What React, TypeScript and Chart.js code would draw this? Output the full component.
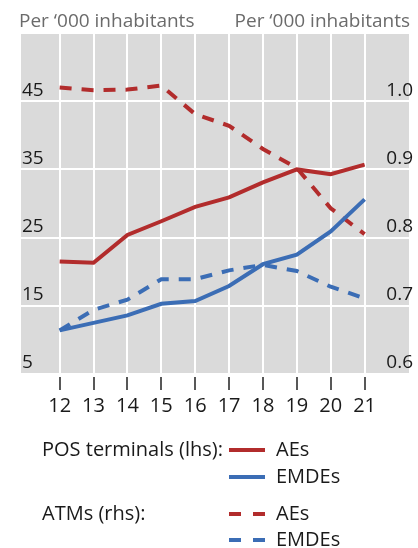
import React, { useEffect, useRef } from "react";
import { Chart, registerables } from "chart.js";

Chart.register(...registerables);

const years = [12, 13, 14, 15, 16, 17, 18, 19, 20, 21];
const posAEs = [21.5, 21.3, 25.4, 27.4, 29.5, 30.9, 33.1, 35.0, 34.3, 35.7];
const posEMDEs = [11.4, 12.5, 13.6, 15.3, 15.7, 17.9, 21.1, 22.5, 25.9, 30.6];
const atmAEs = [1.02, 1.016, 1.017, 1.023, 0.981, 0.964, 0.93, 0.902, 0.843, 0.805];
const atmEMDEs = [0.664, 0.694, 0.709, 0.739, 0.739, 0.752, 0.76, 0.751, 0.728, 0.711];
const leftTicks = [5, 15, 25, 35, 45, 55];
const rightTicks = [0.6, 0.7, 0.8, 0.9, 1.0, 1.1];

const RED = "#b22c2c";
const BLUE = "#3b6db5";
const FONT = "'Open Sans', 'Noto Sans', sans-serif";

const bgPlugin = {
  id: "bg",
  beforeDraw(chart: any) {
    const { ctx, chartArea } = chart;
    ctx.save();
    ctx.fillStyle = "#dadada";
    ctx.fillRect(chartArea.left, chartArea.top, chartArea.right - chartArea.left, chartArea.bottom - chartArea.top);
    ctx.restore();
  },
};

const annoPlugin = {
  id: "anno",
  afterDraw(chart: any) {
    const { ctx } = chart;
    ctx.save();
    ctx.font = `19px ${FONT}`;
    ctx.fillStyle = "#6b6b6b";
    ctx.textBaseline = "alphabetic";
    ctx.textAlign = "left";
    ctx.fillText("Per \u2018000 inhabitants", 19, 27);
    ctx.textAlign = "right";
    ctx.fillText("Per \u2018000 inhabitants", 410, 27);

    ctx.font = `20px ${FONT}`;
    ctx.fillStyle = "#1a1a1a";
    ctx.textBaseline = "middle";
    ctx.textAlign = "left";
    const rows = [
      { label: "POS terminals (lhs):", name: "AEs", color: RED, dash: [] as number[], y: 450 },
      { label: "", name: "EMDEs", color: BLUE, dash: [] as number[], y: 477 },
      { label: "ATMs (rhs):", name: "AEs", color: RED, dash: [12, 12], y: 514 },
      { label: "", name: "EMDEs", color: BLUE, dash: [12, 12], y: 540 },
    ];
    rows.forEach((r) => {
      if (r.label) ctx.fillText(r.label, 42, r.y);
      ctx.fillText(r.name, 276, r.y);
      ctx.save();
      ctx.strokeStyle = r.color;
      ctx.lineWidth = 4;
      ctx.setLineDash(r.dash);
      ctx.beginPath();
      ctx.moveTo(229, r.y);
      ctx.lineTo(265, r.y);
      ctx.stroke();
      ctx.restore();
    });
    ctx.restore();
  },
};

export default function App() {
  const ref = useRef<HTMLCanvasElement>(null);
  useEffect(() => {
    if (!ref.current) return;
    const pts = (arr: number[]) => arr.map((v, i) => ({ x: years[i], y: v }));
    const chart = new Chart(ref.current, {
      type: "line",
      data: {
        datasets: [
          { label: "POS AEs", data: pts(posAEs), borderColor: RED, borderWidth: 4, pointRadius: 0, yAxisID: "y" },
          { label: "POS EMDEs", data: pts(posEMDEs), borderColor: BLUE, borderWidth: 4, pointRadius: 0, yAxisID: "y" },
          { label: "ATM AEs", data: pts(atmAEs), borderColor: RED, borderWidth: 4, borderDash: [12, 10], pointRadius: 0, yAxisID: "y1" },
          { label: "ATM EMDEs", data: pts(atmEMDEs), borderColor: BLUE, borderWidth: 4, borderDash: [12, 10], pointRadius: 0, yAxisID: "y1" },
        ],
      },
      options: {
        animation: false,
        responsive: true,
        maintainAspectRatio: false,
        layout: { padding: { left: 19, right: 1, top: 33, bottom: 126 } },
        plugins: { legend: { display: false }, tooltip: { enabled: false } },
        scales: {
          x: {
            type: "linear",
            min: 10.86,
            max: 22.31,
            afterBuildTicks: (axis: any) => {
              axis.ticks = years.map((v) => ({ value: v }));
            },
            border: { display: false },
            grid: {
              color: "#ffffff",
              lineWidth: 2,
              tickColor: "#222222",
              tickWidth: 1.5,
              tickLength: 16,
              tickBorderDash: [0, 3, 13, 60],
            },
            ticks: {
              font: { family: FONT, size: 20 },
              color: "#1a1a1a",
              padding: 4,
              maxRotation: 0,
              autoSkip: false,
              callback: (v: any) => String(v),
            },
          },
          y: {
            position: "left",
            min: 5,
            max: 55,
            afterBuildTicks: (axis: any) => {
              axis.ticks = leftTicks.map((v) => ({ value: v }));
            },
            border: { display: false },
            grid: { color: "#ffffff", lineWidth: 2, drawTicks: false },
            ticks: {
              mirror: true,
              padding: 1,
              labelOffset: -11,
              font: { family: FONT, size: 19 },
              color: "#1a1a1a",
              callback: (v: any) => (v === 55 ? "" : String(v)),
            },
          },
          y1: {
            position: "right",
            min: 0.6,
            max: 1.1,
            afterBuildTicks: (axis: any) => {
              axis.ticks = rightTicks.map((v) => ({ value: v }));
            },
            border: { display: false },
            grid: { display: false, drawTicks: false },
            ticks: {
              mirror: true,
              padding: 4,
              labelOffset: -11,
              font: { family: FONT, size: 19 },
              color: "#1a1a1a",
              callback: (v: any) => (Math.abs(v - 1.1) < 1e-6 ? "" : Number(v).toFixed(1)),
            },
          },
        },
      },
      plugins: [bgPlugin, annoPlugin],
    });
    return () => chart.destroy();
  }, []);
  return (
    <div style={{ position: "absolute", left: 0, top: 0, width: 418, height: 548 }}>
      <canvas ref={ref} />
    </div>
  );
}
